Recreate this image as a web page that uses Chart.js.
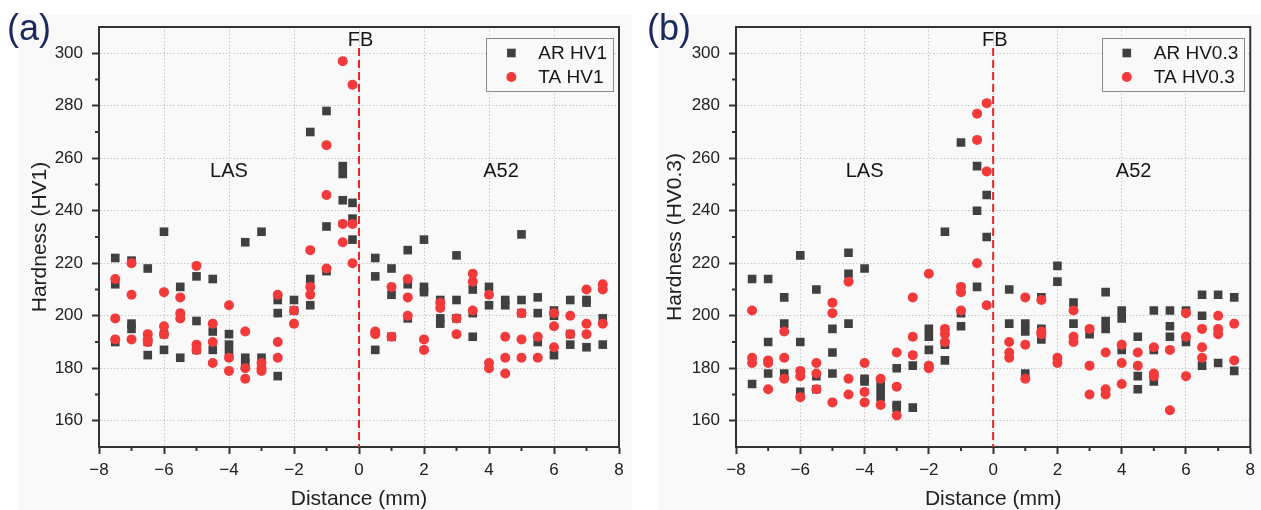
<!DOCTYPE html>
<html>
<head>
<meta charset="utf-8">
<title>Hardness profiles</title>
<script src="https://cdn.jsdelivr.net/npm/chart.js@4.4.1/dist/chart.umd.min.js"></script>
<style>
  html, body { margin: 0; padding: 0; background: #fff; }
  body { width: 1261px; height: 510px; position: relative; overflow: hidden; }
  .panel-bg { position: absolute; top: 15px; height: 495px; background: #f9f9f9; }
  #bgA { left: 18px; width: 614px; }
  #bgB { left: 658px; width: 603px; }
  .box { position: absolute; top: 0; height: 510px; }
  #boxA { left: 0; width: 632px; }
  #boxB { left: 640px; width: 621px; }
</style>
</head>
<body>
<div class="panel-bg" id="bgA"></div>
<div class="panel-bg" id="bgB"></div>
<div class="box" id="boxA"><canvas id="chartA"></canvas></div>
<div class="box" id="boxB"><canvas id="chartB"></canvas></div>
<script>
// Distance of each indent row from the fusion boundary (mm)
const distances = [-7.5, -7, -6.5, -6, -5.5, -5, -4.5, -4, -3.5, -3, -2.5, -2, -1.5, -1, -0.5, -0.2,
                   0.5, 1, 1.5, 2, 2.5, 3, 3.5, 4, 4.5, 5, 5.5, 6, 6.5, 7, 7.5];

// (a) HV1 readings, one list per distance
const arHV1 = [
    [222, 212, 190], [221, 197, 195], [218, 190, 185], [232, 193, 187], [211, 184], [215, 198, 187],
    [214, 194, 187], [193, 189, 186], [228, 184, 182], [232, 184, 180], [206, 201, 177], [206, 202],
    [270, 214, 204], [278, 234, 217], [257, 254, 244], [243, 237, 229],
    [222, 215, 187], [218, 208, 192], [225, 212, 199], [229, 211, 209], [206, 199, 197], [223, 206, 199],
    [210, 201, 192], [211, 204], [206, 204], [231, 206, 201], [207, 201, 190], [202, 200, 185],
    [206, 193, 189], [206, 205, 188], [199, 189]
];
const taHV1 = [
    [214, 199, 191], [220, 208, 191], [193, 191, 190], [209, 196, 193], [207, 201, 199], [219, 189, 187],
    [197, 190, 182], [204, 184, 179], [194, 180, 176], [182, 180, 179], [208, 190, 184], [202, 197],
    [225, 211, 208], [265, 246, 218], [297, 235, 228], [288, 235, 220],
    [194, 193], [211, 192], [214, 207, 200], [191, 187], [205, 203], [199, 193],
    [216, 213, 202], [208, 182, 180], [192, 184, 178], [201, 191, 184], [192, 184], [201, 196, 188],
    [200, 193], [210, 197, 193], [212, 210, 197]
];

// (b) HV0.3 readings, one list per distance
const arHV03 = [
    [214, 174], [214, 190, 178], [207, 197, 178], [223, 190, 171], [210, 177, 172], [195, 186, 178],
    [224, 216, 197], [218, 176, 175], [175, 172, 169], [180, 166, 165], [181, 165], [195, 192, 187],
    [232, 189, 183], [266, 201, 196], [257, 240, 211], [246, 230],
    [210, 197], [197, 194, 178], [207, 195, 191], [219, 213], [205, 197], [193],
    [209, 198, 195], [202, 199, 187], [192, 177, 172], [202, 187, 175], [202, 196, 192], [202, 190],
    [208, 200, 181], [208, 182], [207, 179]
];
const taHV03 = [
    [202, 184, 182], [183, 182, 172], [194, 184, 176], [179, 177, 169], [182, 178, 172], [205, 201, 167],
    [213, 176, 170], [182, 171, 167], [176, 166], [186, 173, 162], [207, 192, 185], [216, 181, 180],
    [195, 193, 190], [211, 209, 202], [277, 267, 220], [281, 255, 204],
    [190, 186, 184], [207, 189, 176], [206, 194, 193], [184, 182], [202, 192, 190], [195, 181, 170],
    [186, 172, 170], [189, 182, 174], [186, 181], [188, 178, 177], [187, 164], [201, 192, 177],
    [195, 188, 184], [200, 195, 193], [197, 183]
];

// axis ranges and the FB reference line
const xRange = [-8, 8];
const yRange = [150, 310];
const fbLine = [[0, 302], [0, 150]];

// region names placed in data coordinates
const regionNames = [
    { text: 'LAS', x: -4, y: 255 },
    { text: 'A52', x: 4.37, y: 255 },
    { text: 'FB', x: 0.05, y: 304.7 }
];

const FONT = "'Liberation Sans', Arial, sans-serif";
const DARK = '#333';

function toPoints(values) {
    const pts = [];
    distances.forEach((d, i) => {
        values[i].forEach(v => pts.push({ x: d, y: v }));
    });
    return pts;
}

function fmt(v) {
    return v < 0 ? '\u2212' + Math.abs(v) : String(v);
}

const isMajorX = v => v % 2 === 0;
const isMajorY = v => v >= 160 && v <= 300 && (v - 160) % 20 === 0;

// frame, minor ticks, region names, legend box, panel letter
function makeDecor(panelLetter) {
    return {
        id: 'decor',
        afterDraw(chart) {
            const ctx = chart.ctx;
            const area = chart.chartArea;
            const xs = chart.scales.x;
            const ys = chart.scales.y;

            ctx.save();
            // top + right frame
            ctx.strokeStyle = DARK;
            ctx.lineWidth = 2;
            ctx.beginPath();
            ctx.moveTo(area.left - 1, area.top);
            ctx.lineTo(area.right, area.top);
            ctx.lineTo(area.right, area.bottom + 1);
            ctx.stroke();

            // minor ticks
            ctx.lineWidth = 2;
            xs.ticks.forEach(t => {
                if (isMajorX(t.value)) return;
                const px = xs.getPixelForValue(t.value);
                ctx.beginPath();
                ctx.moveTo(px, area.bottom);
                ctx.lineTo(px, area.bottom + 4);
                ctx.stroke();
            });
            ys.ticks.forEach(t => {
                if (isMajorY(t.value) || t.value <= yRange[0] || t.value >= yRange[1]) return;
                const py = ys.getPixelForValue(t.value);
                ctx.beginPath();
                ctx.moveTo(area.left, py);
                ctx.lineTo(area.left - 4, py);
                ctx.stroke();
            });

            // region names
            ctx.fillStyle = '#161616';
            ctx.font = '20px ' + FONT;
            ctx.textAlign = 'center';
            ctx.textBaseline = 'middle';
            regionNames.forEach(r => {
                ctx.fillText(r.text, xs.getPixelForValue(r.x), ys.getPixelForValue(r.y));
            });

            // legend
            const sets = chart.data.datasets.slice(0, 2);
            ctx.font = '19px ' + FONT;
            const textW = Math.max(...sets.map(s => ctx.measureText(s.label).width));
            const boxW = 52 + textW + 6;
            const boxR = area.right - 6;
            const boxL = boxR - boxW;
            const boxT = area.top + 11;
            const boxH = 53;
            ctx.fillStyle = '#f9f9f9';
            ctx.fillRect(boxL, boxT, boxW, boxH);
            ctx.strokeStyle = '#8a8a8a';
            ctx.lineWidth = 1;
            ctx.strokeRect(Math.round(boxL) + 0.5, boxT + 0.5, Math.round(boxW), boxH);
            sets.forEach((s, i) => {
                const cy = boxT + 15 + i * 24;
                ctx.fillStyle = s.backgroundColor;
                Chart.helpers.drawPoint(ctx, {
                    pointStyle: s.pointStyle, radius: s.pointRadius, rotation: 0, borderWidth: 0
                }, boxL + 25, cy);
                ctx.fillStyle = '#161616';
                ctx.textAlign = 'left';
                ctx.textBaseline = 'middle';
                ctx.fillText(s.label, boxL + 52, cy + 1);
            });

            // panel letter
            ctx.fillStyle = '#1b2a5c';
            ctx.font = '36px ' + FONT;
            ctx.textAlign = 'left';
            ctx.textBaseline = 'alphabetic';
            ctx.fillText(panelLetter, 7, 40);
            ctx.restore();
        }
    };
}

function buildChart(canvasId, ar, ta, arName, taName, yTitle, opts) {
    const ctx = document.getElementById(canvasId).getContext('2d');
    return new Chart(ctx, {
        type: 'scatter',
        data: {
            datasets: [
                {
                    label: arName,
                    data: toPoints(ar),
                    pointStyle: 'rect',
                    pointRadius: 6.1,
                    pointHoverRadius: 6.1,
                    backgroundColor: '#404040',
                    pointBorderWidth: 0,
                    order: 2
                },
                {
                    label: taName,
                    data: toPoints(ta),
                    pointStyle: 'circle',
                    pointRadius: 5,
                    pointHoverRadius: 5,
                    backgroundColor: '#f23a3a',
                    pointBorderWidth: 0,
                    order: 1
                },
                {
                    label: 'FB',
                    data: fbLine.map(p => ({ x: p[0], y: p[1] })),
                    showLine: true,
                    borderColor: '#e8272b',
                    borderWidth: 2,
                    borderDash: [8, 4],
                    pointRadius: 0,
                    order: 3
                }
            ]
        },
        options: {
            responsive: true,
            maintainAspectRatio: false,
            animation: false,
            layout: { padding: { top: 27, right: opts.padRight, left: 0, bottom: 0 } },
            plugins: {
                legend: { display: false },
                tooltip: { enabled: false }
            },
            scales: {
                x: {
                    type: 'linear',
                    min: xRange[0],
                    max: xRange[1],
                    ticks: {
                        stepSize: 1,
                        autoSkip: false,
                        maxRotation: 0,
                        padding: 6,
                        color: '#222',
                        font: { size: 17, family: FONT },
                        callback: v => isMajorX(v) ? fmt(v) : ''
                    },
                    grid: {
                        color: c => isMajorX(c.tick.value) ? '#c6c6c6' : 'transparent',
                        tickColor: c => isMajorX(c.tick.value) ? DARK : 'transparent',
                        tickLength: 7,
                        tickWidth: 2,
                        lineWidth: 1
                    },
                    border: { display: true, color: DARK, width: 2, dash: [1.5, 2] },
                    title: {
                        display: true,
                        text: 'Distance (mm)',
                        color: '#222',
                        font: { size: 21, family: FONT, lineHeight: 1 },
                        padding: { top: 0, bottom: 0 }
                    },
                    afterFit: s => { s.height = 63; }
                },
                y: {
                    type: 'linear',
                    min: yRange[0],
                    max: yRange[1],
                    ticks: {
                        stepSize: 10,
                        autoSkip: false,
                        padding: 9,
                        color: '#222',
                        font: { size: 17, family: FONT },
                        callback: v => isMajorY(v) ? String(v) : ''
                    },
                    grid: {
                        color: c => isMajorY(c.tick.value) ? '#c6c6c6' : 'transparent',
                        tickColor: c => isMajorY(c.tick.value) ? DARK : 'transparent',
                        tickLength: 7,
                        tickWidth: 2,
                        lineWidth: 1
                    },
                    border: { display: true, color: DARK, width: 2, dash: [1.5, 2] },
                    title: {
                        display: true,
                        text: yTitle,
                        color: '#222',
                        font: { size: 21, family: FONT, lineHeight: 1 },
                        padding: { top: opts.titleOffset, bottom: 0 }
                    },
                    afterFit: s => { s.width = opts.yWidth; }
                }
            }
        },
        plugins: [makeDecor(opts.letter)]
    });
}

buildChart('chartA', arHV1, taHV1, 'AR HV1', 'TA HV1', 'Hardness (HV1)',
    { letter: '(a)', padRight: 13, yWidth: 99, titleOffset: 30 });
buildChart('chartB', arHV03, taHV03, 'AR HV0.3', 'TA HV0.3', 'Hardness (HV0.3)',
    { letter: '(b)', padRight: 6, yWidth: 96, titleOffset: 25 });
</script>
</body>
</html>
